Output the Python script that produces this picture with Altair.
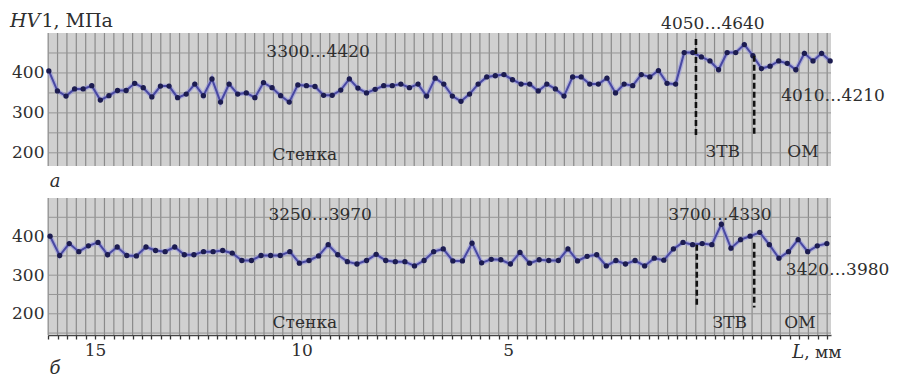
import altair as alt
import numpy as np
import pandas as pd

# ---- data ----
HV_TOP = [405, 355, 342, 360, 360, 368, 332, 343, 356, 356, 374, 363, 340, 367, 367,
          338, 347, 372, 343, 385, 327, 372, 347, 350, 338, 376, 363, 343, 327, 370,
          368, 366, 344, 344, 357, 385, 362, 350, 359, 368, 368, 372, 363, 372, 342,
          387, 372, 342, 329, 347, 372, 390, 393, 396, 383, 372, 372, 355, 372, 360,
          342, 390, 390, 372, 372,
          387, 350, 372, 368, 396, 390, 406, 374, 372, 451, 451, 440, 430, 408, 451,
          451, 471, 443, 411, 417, 430, 424, 408, 449, 430, 449, 430]
HV_BOT = [401, 351, 382, 361, 376, 385, 353, 373, 351, 350, 373, 364, 361, 373, 353,
          353, 361, 361, 364, 357, 338, 338, 351, 351, 351, 361, 331,
          338, 350, 379, 353, 335, 329, 338, 354, 338, 335, 335, 324, 338, 361, 368,
          337, 337, 383, 332, 341, 340, 329, 359, 331, 340, 338, 338, 368, 337, 349, 353,
          324, 338, 329, 338, 324, 344, 339, 368, 385, 379, 382, 379, 432, 370, 392,
          401, 411, 379, 344, 361, 392, 361, 376, 382]
L_TOP_RANGE = [16.12, -2.80]
L_BOT_RANGE = [16.09, -2.72]

ZONE_L_TOP = [0.45, -0.96]
ZONE_TOP_Y1 = [485, 443]
ZONE_TOP_Y2 = [241, 241]
ZONE_L_BOT = [0.43, -0.96]
ZONE_BOT_Y1 = [379, 384]
ZONE_BOT_Y2 = [216, 216]

Y_TICKS = [200, 300, 400]
X_LABELS = [15, 10, 5]
TOP_HGRID = [200, 250, 300, 350, 400, 450]
BOT_HGRID = [150, 200, 250, 300, 350, 400, 450]

TOP_TEXT = ["3300…4420", "Стенка", "4050…4640", "4010…4210", "ЗТВ", "ОМ"]
TOP_TEXT_L = [9.60, 9.92, 0.04, -2.87, -0.20, -2.14]
TOP_TEXT_V = [452, 195, 522, 342, 202, 202]
BOT_TEXT = ["3250…3970", "Стенка", "3700…4330", "3420…3980", "ЗТВ", "ОМ"]
BOT_TEXT_L = [9.55, 9.92, -0.13, -2.98, -0.37, -2.07]
BOT_TEXT_V = [456, 176, 456, 313, 176, 176]

# ---- layout ----
X_DOMAIN = [-2.82, 16.14]
TOP_DOMAIN = [167, 500]
BOT_DOMAIN = [145, 500]
TOP_RANGE = [133, 0]
BOT_RANGE = [302, 165]
GRID_STEP = 5 / 22
grid_x = [round(v, 4) for v in 15 - GRID_STEP * np.arange(-5, 79)
          if X_DOMAIN[0] <= v <= X_DOMAIN[1] + 1e-6]

FONT = "DejaVu Serif"
TXT = "#2e2e2e"
BG = "#d0d0d0"
GRID = "#8a8a8a"

X_SCALE = alt.Scale(domain=X_DOMAIN, reverse=True, nice=False, zero=False)
label_set = ",".join(str(v) for v in X_LABELS)
X_AXIS = alt.Axis(values=grid_x,
                  labelExpr=f"indexof([{label_set}], round(datum.value)) >= 0 && abs(datum.value - round(datum.value)) < 0.001 ? format(round(datum.value), 'd') : ''",
                  title=None, grid=False, tickSize=4, tickColor="#333", tickWidth=1.3,
                  domainColor="#444", domainWidth=1.5, labelFont=FONT, labelFontSize=17,
                  labelColor=TXT, labelPadding=3, labelOverlap=False, labelFlush=False)
TOP_Y = alt.Scale(domain=TOP_DOMAIN, range=TOP_RANGE, nice=False, zero=False)
BOT_Y = alt.Scale(domain=BOT_DOMAIN, range=BOT_RANGE, nice=False, zero=False)


def y_axis():
    return alt.Axis(values=Y_TICKS, orient="left", grid=False, ticks=False, domain=False,
                    labelFont=FONT, labelFontSize=17, labelColor=TXT, labelPadding=4,
                    title=None)


def X(field):
    return alt.X(field, scale=X_SCALE, axis=X_AXIS)


def panel(hv, lrange, ydom, yscale, hgrid, zl, zy1, zy2, texts, tl, tv, tag_text, tag_v):
    L = np.linspace(lrange[0], lrange[1], len(hv))
    df = pd.DataFrame({"L": L, "hv": hv})
    bg = alt.Chart(pd.DataFrame({"x0": [X_DOMAIN[1]], "x1": [X_DOMAIN[0]],
                                 "y0": [ydom[0]], "y1": [ydom[1]]})).mark_rect(color=BG).encode(
        x=X("x0:Q"), x2="x1", y=alt.Y("y0:Q", scale=yscale, axis=None), y2="y1")
    vg = alt.Chart(pd.DataFrame({"g": grid_x, "y0": ydom[0], "y1": ydom[1]})).mark_rule(
        color=GRID, strokeWidth=1.2).encode(
        x=X("g:Q"), y=alt.Y("y0:Q", scale=yscale, axis=None), y2="y1")
    hg = alt.Chart(pd.DataFrame({"v": hgrid, "x0": X_DOMAIN[1], "x1": X_DOMAIN[0]})).mark_rule(
        color="#969696", strokeWidth=1).encode(
        x=X("x0:Q"), x2="x1", y=alt.Y("v:Q", scale=yscale, axis=None))
    halo = alt.Chart(df).mark_line(color="#8f8fdc", strokeWidth=4.5, opacity=0.55).encode(
        x=X("L:Q"), y=alt.Y("hv:Q", scale=yscale, axis=None))
    line = alt.Chart(df).mark_line(color="#4848a2", strokeWidth=2).encode(
        x=X("L:Q"), y=alt.Y("hv:Q", scale=yscale, axis=y_axis()))
    pts = alt.Chart(df).mark_point(filled=True, color="#1c1c50", size=28, opacity=1).encode(
        x=X("L:Q"), y=alt.Y("hv:Q", scale=yscale, axis=None))
    dash = alt.Chart(pd.DataFrame({"L": zl, "y1": zy1, "y2": zy2})).mark_rule(
        color="#111111", strokeWidth=2.6, strokeDash=[6, 3]).encode(
        x=X("L:Q"), y=alt.Y("y1:Q", scale=yscale, axis=None), y2="y2")
    txt = alt.Chart(pd.DataFrame({"L": tl, "v": tv, "t": texts})).mark_text(
        font=FONT, fontSize=17, color=TXT, align="center", baseline="middle").encode(
        x=X("L:Q"), y=alt.Y("v:Q", scale=yscale, axis=None), text="t:N")
    tag = alt.Chart(pd.DataFrame({"L": [15.97], "v": [tag_v], "t": [tag_text]})).mark_text(
        font=FONT, fontSize=18, fontStyle="italic", color=TXT, align="center",
        baseline="middle").encode(
        x=X("L:Q"), y=alt.Y("v:Q", scale=yscale, axis=None), text="t:N")
    return [bg, vg, hg, halo, line, pts, dash, txt, tag]


top_layers = panel(HV_TOP, L_TOP_RANGE, TOP_DOMAIN, TOP_Y, TOP_HGRID, ZONE_L_TOP, ZONE_TOP_Y1,
                   ZONE_TOP_Y2, TOP_TEXT, TOP_TEXT_L, TOP_TEXT_V, "а", 127)
bot_layers = panel(HV_BOT, L_BOT_RANGE, BOT_DOMAIN, BOT_Y, BOT_HGRID, ZONE_L_BOT, ZONE_BOT_Y1,
                   ZONE_BOT_Y2, BOT_TEXT, BOT_TEXT_L, BOT_TEXT_V, "б", 56)

# axis titles as text
ytitle_i = alt.Chart(pd.DataFrame({"L": [17.06], "v": [530], "t": ["HV"]})).mark_text(
    font=FONT, fontSize=19, fontStyle="italic", color=TXT, align="left", baseline="middle").encode(
    x=X("L:Q"), y=alt.Y("v:Q", scale=TOP_Y, axis=None), text="t:N")
ytitle_r = alt.Chart(pd.DataFrame({"L": [16.30], "v": [530], "t": ["1, МПа"]})).mark_text(
    font=FONT, fontSize=19, color=TXT, align="left", baseline="middle").encode(
    x=X("L:Q"), y=alt.Y("v:Q", scale=TOP_Y, axis=None), text="t:N")
xtitle_i = alt.Chart(pd.DataFrame({"L": [-1.88], "v": [98], "t": ["L"]})).mark_text(
    font=FONT, fontSize=18, fontStyle="italic", color=TXT, align="left", baseline="middle").encode(
    x=X("L:Q"), y=alt.Y("v:Q", scale=BOT_Y, axis=None), text="t:N")
xtitle_r = alt.Chart(pd.DataFrame({"L": [-2.17], "v": [98], "t": [", мм"]})).mark_text(
    font=FONT, fontSize=17, color=TXT, align="left", baseline="middle").encode(
    x=X("L:Q"), y=alt.Y("v:Q", scale=BOT_Y, axis=None), text="t:N")

chart = alt.layer(*top_layers, *bot_layers, ytitle_i, ytitle_r, xtitle_i, xtitle_r).resolve_scale(
    y="independent"
).properties(
    width=783, height=302,
    autosize=alt.AutoSizeParams(type="none"),
    padding={"left": 40, "top": 25, "right": 61, "bottom": 46},
).configure_view(stroke=None)

chart.save("out.html", embed_options={"renderer": "svg", "actions": False})
